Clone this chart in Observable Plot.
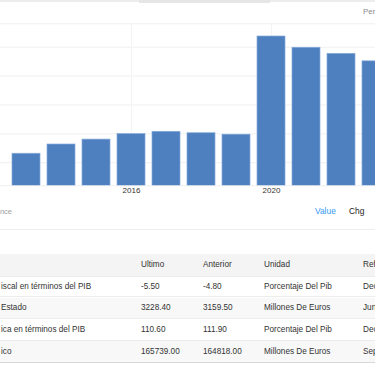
<!DOCTYPE html>
<html><head><meta charset="utf-8">
<script src="https://cdn.jsdelivr.net/npm/d3@7"></script>
<script src="https://cdn.jsdelivr.net/npm/@observablehq/plot@0.6"></script>
<style>
html,body{margin:0;padding:0;background:#fff;overflow:hidden;width:375px;height:366px}
body{font-family:"Liberation Sans",Arial,Helvetica,sans-serif;color:#333;position:relative}
#topbar{position:absolute;left:0;top:0;width:375px;height:2px;background:#ededed}
#topbar2{position:absolute;left:139px;top:0;width:131px;height:3px;background:#e6e6e6}
#chart{position:absolute;left:0;top:0}
#per{position:absolute;left:363px;top:8px;font-size:8px;line-height:1;color:#8a8a8a;white-space:nowrap}
#src{position:absolute;right:363px;top:207.5px;font-size:7.5px;line-height:1;color:#a0a0a0;white-space:nowrap}
#value{position:absolute;left:315px;top:206.5px;font-size:8.4px;line-height:1;color:#3399f3}
#chg{position:absolute;left:349px;top:206.5px;font-size:8.4px;line-height:1;color:#222}
#hr{position:absolute;left:0;top:229px;width:375px;height:1px;background:#eeeeee}
.row{position:absolute;left:0;width:470px;display:flex;align-items:center;font-size:8.2px;color:#333;white-space:nowrap;border-bottom:1px solid #ececec;box-sizing:border-box}
.row div{flex:none;overflow:hidden}
.c0{width:141px;padding-left:1px;box-sizing:border-box}
.c1{width:62px}.c2{width:61px}.c3{width:99px}.c4{width:100px}
.hdr{background:#f4f4f4}
.alt{background:#f8f8f8}
.last{border-bottom:1px solid #d8d8d8}
</style></head>
<body>
<div id="topbar"></div><div id="topbar2"></div>
<div id="chart"></div>
<div id="per">Personalizar</div>
<div id="src">Fuente: Ministry of Finance</div>
<div id="value">Value</div>
<div id="chg">Chg</div>
<div id="hr"></div>
<div id="table"></div>
<script>
// ---- chart data ----
const years = [2013, 2014, 2015, 2016, 2017, 2018, 2019, 2020, 2021, 2022, 2023];
const values = [63.1, 66.3, 68.0, 69.9, 70.7, 70.2, 69.7, 103.7, 99.8, 97.7, 95.1];
const gridValues = [60, 70, 80, 90, 100];
const yDomain = [52.0, 108.1];
const tickYears = [2016, 2020];

// ---- table data ----
const headers = ["", "Último", "Anterior", "Unidad", "Referencia"];
const names = ["iscal en términos del PIB", "Estado", "ica en términos del PIB", "ico"];
const ultimo = ["-5.50", "3228.40", "110.60", "165739.00"];
const anterior = ["-4.80", "3159.50", "111.90", "164818.00"];
const unidad = ["Porcentaje Del Pib", "Millones De Euros", "Porcentaje Del Pib", "Millones De Euros"];
const referencia = ["Dec/2023", "Jun/2024", "Dec/2023", "Sep/2024"];

const data = years.map((year, i) => ({year, value: values[i]}));

const chart = Plot.plot({
  width: 375,
  height: 200,
  marginTop: 23.3,
  marginBottom: 14.7,
  marginLeft: 0,
  marginRight: 0,
  x: {type: "band", domain: years, range: [2.8, 398], paddingInner: 0.21, paddingOuter: 0.105, axis: null, label: null},
  y: {domain: yDomain, axis: null, label: null},
  style: {background: "transparent", fontFamily: "Liberation Sans, Arial, sans-serif", overflow: "hidden"},
  marks: [
    Plot.ruleY(gridValues.concat(yDomain), {stroke: "#f0f0f0", strokeWidth: 1}),
    Plot.ruleX(tickYears, {stroke: "#f4f4f4", strokeWidth: 1}),
    Plot.barY(data, {x: "year", y: "value", fill: "#4e80bf", stroke: "#86aadb", strokeWidth: 0.7, clip: true}),
    Plot.axisX(tickYears, {tickSize: 0, tickPadding: 2, fontSize: 8, fill: "#333", label: null, tickFormat: d => String(d)})
  ]
});
document.getElementById("chart").appendChild(chart);

// ---- table ----
const tops = [254, 276.7, 297.5, 319.3, 340.7, 362.7];
const rows = [headers].concat(names.map((n, i) => [n, ultimo[i], anterior[i], unidad[i], referencia[i]]));
const tbl = document.getElementById("table");
rows.forEach((r, i) => {
  const row = document.createElement("div");
  row.className = "row" + (i === 0 ? " hdr" : (i % 2 === 0 ? " alt" : "")) + (i === rows.length - 1 ? " last" : "");
  row.style.top = tops[i] + "px";
  row.style.height = (tops[i + 1] - tops[i]) + "px";
  r.forEach((t, j) => {
    const c = document.createElement("div");
    c.className = "c" + j;
    c.textContent = t;
    row.appendChild(c);
  });
  tbl.appendChild(row);
});
</script>
</body></html>
